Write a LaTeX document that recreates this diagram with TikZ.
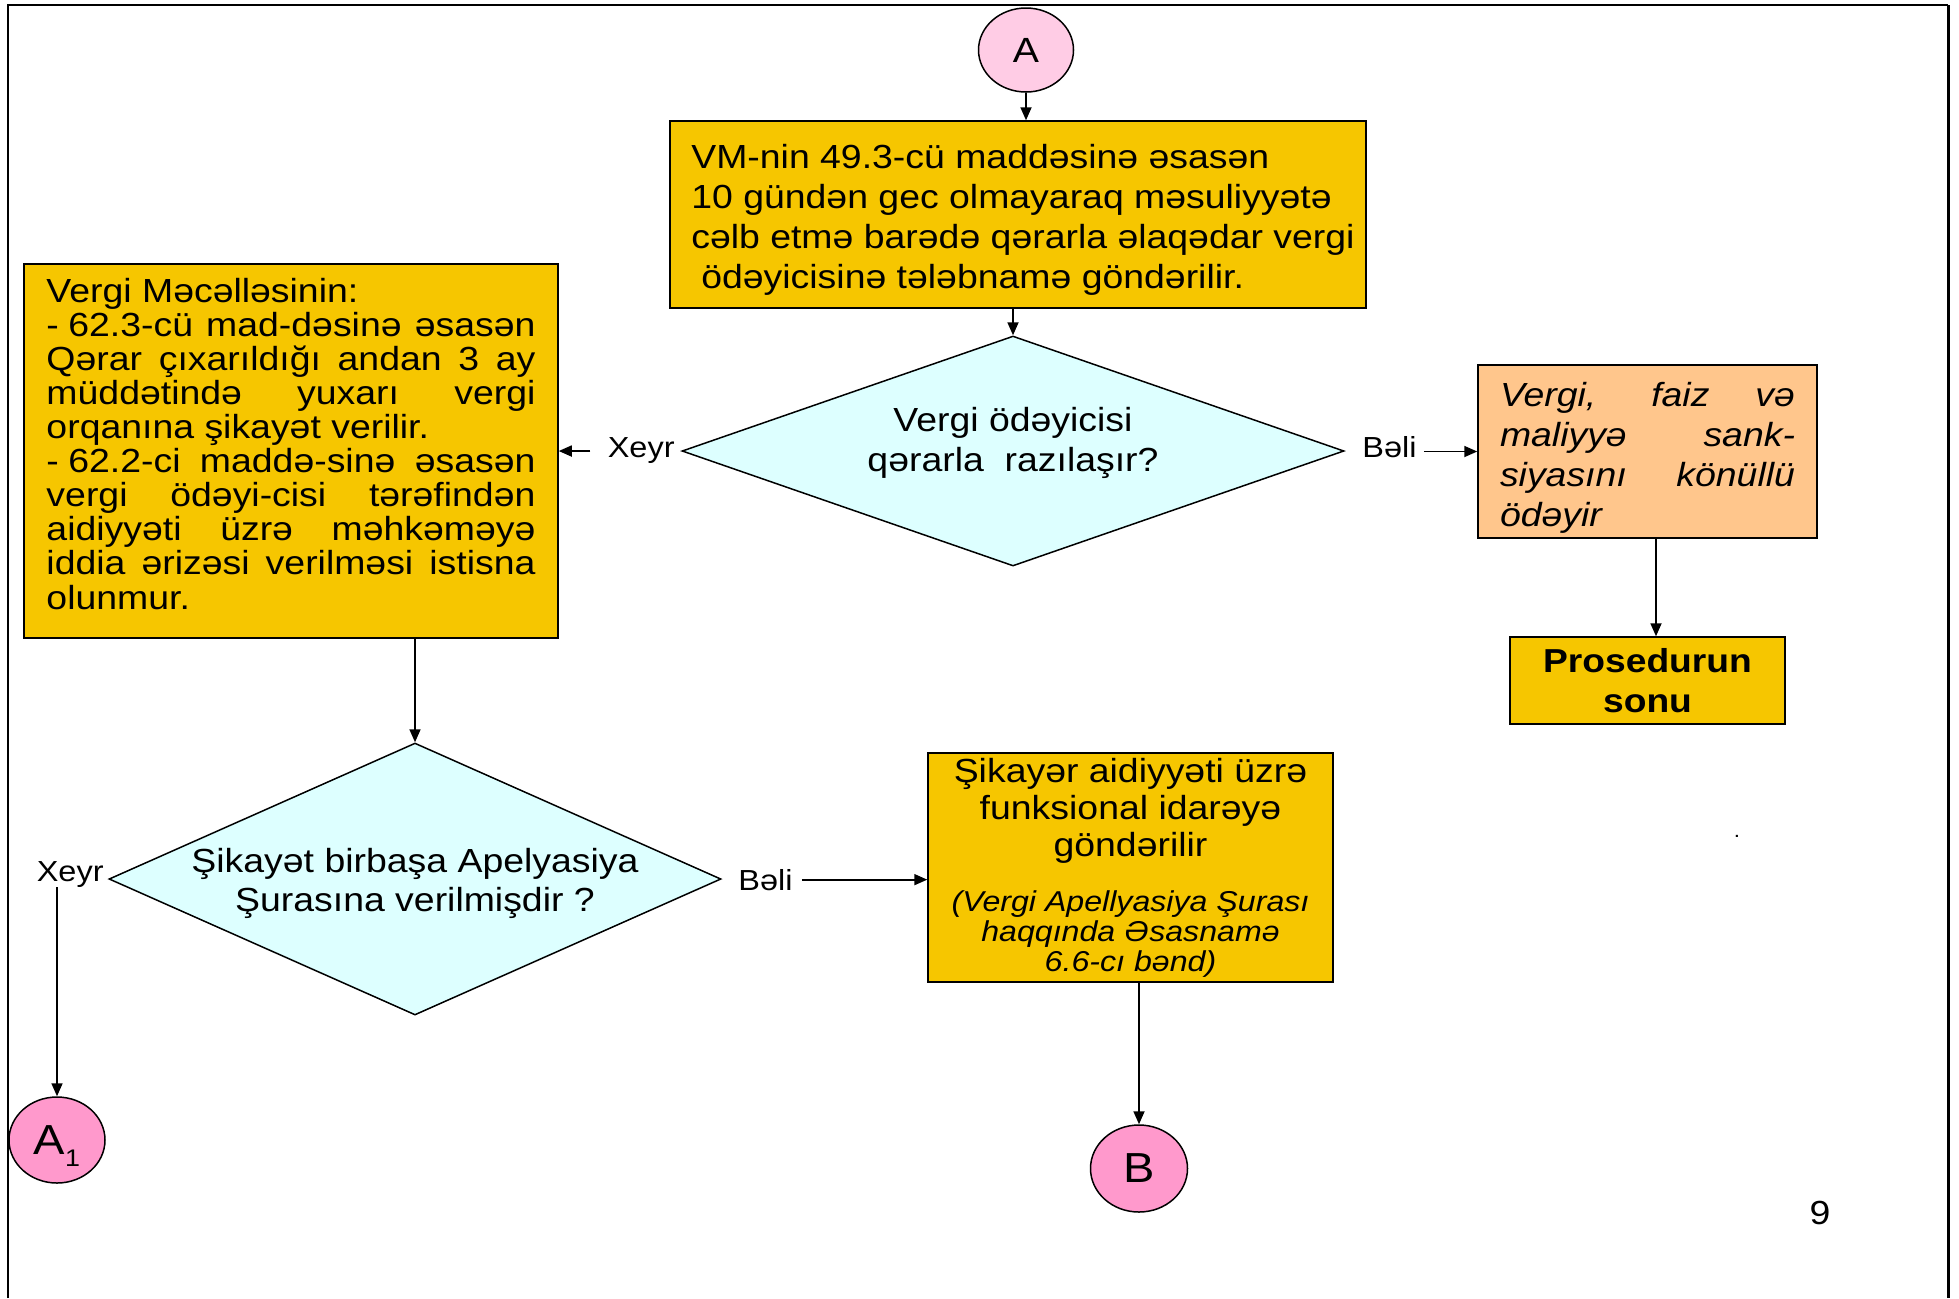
\documentclass[tikz,border=0pt]{standalone}
\usepackage{fontspec}
\setmainfont{Liberation Sans}[FakeStretch=1.12]
\usetikzlibrary{shapes.geometric,arrows.meta}
\definecolor{gold}{RGB}{246,198,0}
\definecolor{peach}{RGB}{255,198,140}
\definecolor{paleCyan}{RGB}{221,255,255}
\definecolor{pinkA}{RGB}{255,204,229}
\definecolor{pinkB}{RGB}{255,153,204}
\newcommand\jl[2]{\makebox[#1][s]{#2}}
\begin{document}
\begin{tikzpicture}[x=0.5pt,y=-0.5pt,
  bx/.style={draw=black,line width=0.75pt,rectangle,inner sep=0pt},
  gbox/.style={bx,fill=gold},
  dia/.style={diamond,draw=black,line width=0.75pt,fill=paleCyan,inner sep=0pt},
  conn/.style={ellipse,draw=black,line width=0.75pt,inner sep=0pt},
  arr/.style={-{Triangle[length=6.5pt,width=5.5pt]},line width=0.85pt},
  lab/.style={inner sep=0pt,font=\fontsize{14.5}{17}\selectfont}]
\useasboundingbox (0,0) rectangle (1959,1298);
\fill[white] (0,0) rectangle (1959,1298);
% frame
\draw[line width=1pt] (7.5,1298) -- (7.5,5) -- (1948,5);
\draw[line width=1.5pt] (1948,5) -- (1948,1298);

% connector A
\node[conn,fill=pinkA,minimum width=47.5pt,minimum height=42pt,font=\fontsize{17.5}{20}\selectfont] (A) at (1026,50) {A};

% top box
\node[gbox,minimum width=348pt,minimum height=93.5pt,align=left,font=\fontsize{16.7}{20}\selectfont] (tb) at (1018,214.5)
 {\mbox{}\\[-2.8pt]\hspace*{5pt}VM-nin 49.3-cü maddəsinə əsasən\\\hspace*{5pt}10 gündən gec olmayaraq məsuliyyətə\\\hspace*{5pt}cəlb etmə barədə qərarla əlaqədar vergi\\\hspace*{10pt}ödəyicisinə tələbnamə göndərilir.};

% decision 1
\node[dia,minimum width=331pt,minimum height=115pt,shape aspect=2.9,font=\fontsize{16.7}{20}\selectfont] (d1) at (1013,451)
 {\makebox[0pt]{\raisebox{3.75pt}[\height][\depth]{\begin{tabular}{@{}c@{}}Vergi ödəyicisi\\qərarla\ \ razılaşır?\end{tabular}}}};

% left box
\node[gbox,minimum width=267pt,minimum height=187pt,align=left,font=\fontsize{16.7}{17.05}\selectfont] (lb) at (291,451)
 {Vergi Məcəlləsinin:\\
  \jl{244.5pt}{-\hspace{0.28em}62.3-cü mad-dəsinə əsasən}\\
  \jl{244.5pt}{Qərar çıxarıldığı andan 3 ay}\\
  \jl{244.5pt}{müddətində yuxarı vergi}\\
  orqanına şikayət verilir.\\
  \jl{244.5pt}{-\hspace{0.28em}62.2-ci maddə-sinə əsasən}\\
  \jl{244.5pt}{vergi ödəyi-cisi tərəfindən}\\
  \jl{244.5pt}{aidiyyəti üzrə məhkəməyə}\\
  \jl{244.5pt}{iddia ərizəsi verilməsi istisna}\\
  olunmur.\\[-9.55pt]\mbox{}};

% orange box
\node[bx,fill=peach,minimum width=169.5pt,minimum height=86.5pt,align=left,font=\itshape\fontsize{16.7}{20}\selectfont] (ob) at (1647.5,451.5)
 {\mbox{}\\[-1.8pt]\jl{147.5pt}{Vergi, faiz və}\\\jl{147.5pt}{maliyyə sank-}\\\jl{147.5pt}{siyasını könüllü}\\ödəyir};

% end box
\node[gbox,minimum width=137.5pt,minimum height=43.5pt,align=center,font=\bfseries\fontsize{16.6}{20}\selectfont] (pb) at (1647.5,680.5) {Prosedurun\\sonu};

% decision 2
\node[dia,minimum width=306pt,minimum height=136pt,shape aspect=2.25,font=\fontsize{16.7}{19.5}\selectfont] (d2) at (415,879)
 {\makebox[0pt]{\raisebox{-2.5pt}[\height][\depth]{\begin{tabular}{@{}c@{}}Şikayət birbaşa Apelyasiya\\Şurasına verilmişdir ?\end{tabular}}}};

% complaint box
\node[gbox,minimum width=202.5pt,minimum height=114.5pt,align=center,font=\fontsize{16.7}{18.5}\selectfont] (sb) at (1130.5,867.5)
 {Şikayər aidiyyəti üzrə\\funksional idarəyə\\göndərilir\\[9pt]
  {\itshape\fontsize{14.35}{15}\selectfont (Vergi Apellyasiya Şurası}\\[-3.5pt]
  {\itshape\fontsize{14.35}{15}\selectfont haqqında Əsasnamə}\\[-3.5pt]
  {\itshape\fontsize{14.35}{15}\selectfont 6.6-cı bənd)}};

% labels
\node[lab,anchor=base east] (x1) at (675,457) {Xeyr};
\node[lab,anchor=base west] (b1) at (1362,457) {Bəli};
\node[lab,anchor=base east] (x2) at (104,881) {Xeyr};
\node[lab,anchor=base west] (b2) at (738,890) {Bəli};

% bottom connectors
\node[conn,fill=pinkB,minimum width=48pt,minimum height=43pt,font=\fontsize{21}{24}\selectfont] (a1) at (57,1140)
 {A\raisebox{-6pt}[0pt][0pt]{\fontsize{12}{12}\selectfont 1}};
\node[conn,fill=pinkB,minimum width=48.5pt,minimum height=43.5pt,font=\fontsize{21}{24}\selectfont] (B) at (1139,1168.5) {B};

% page number and stray dot
\node[inner sep=0pt,font=\fontsize{16.7}{20}\selectfont] (pg) at (1820,1213) {9};
\node[inner sep=0pt,font=\fontsize{10}{10}\selectfont] (dot) at (1737,836) {.};

% arrows
\draw[arr] (A.south) -- (A.south |- tb.north);
\draw[arr] (tb.south -| d1.north) -- (d1.north);
\draw[arr] (x1.west |- lb.east) ++(-8.5pt,0) -- (lb.east);
\draw[arr] (b1.east |- ob.west) ++(3.5pt,0) -- (ob.west);
\draw[arr] ([xshift=4.25pt]ob.south) -- ([xshift=4.25pt]pb.north);
\draw[arr] (lb.south -| d2.north) -- (d2.north);
\draw[arr] (x2.south -| a1.north) -- (a1.north);
\draw[arr] ([xshift=4.5pt]b2.east) -- (b2.east -| sb.west);
\draw[arr] (sb.south -| B.north) -- (B.north);
\end{tikzpicture}
\end{document}
